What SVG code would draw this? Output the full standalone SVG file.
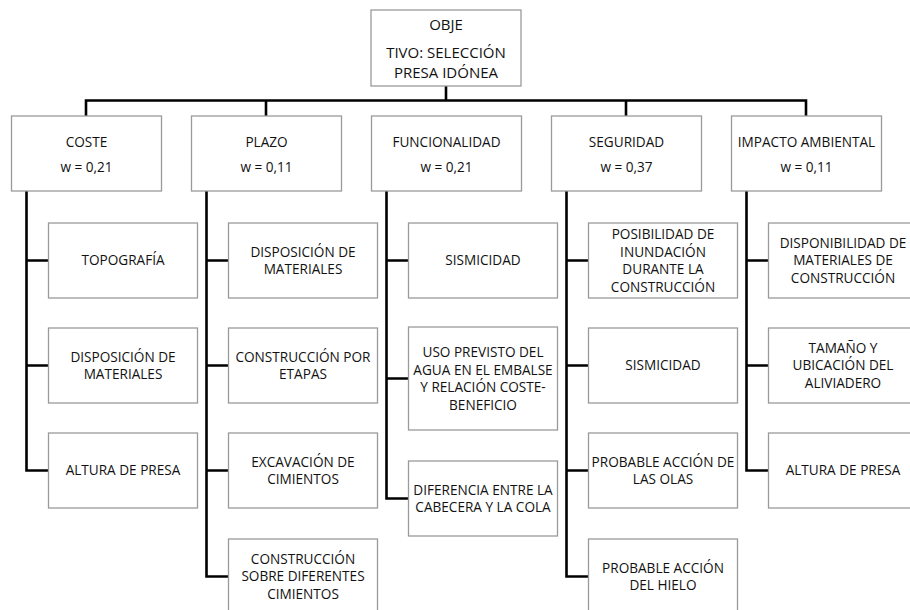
<svg xmlns="http://www.w3.org/2000/svg" width="910" height="610" viewBox="0 0 910 610">
<style>
rect{fill:#fff;stroke:#9a9a9a;stroke-width:1.3}
text{font-family:"Open Sans","Liberation Sans",sans-serif;font-size:13.6px;fill:#111;text-anchor:middle}
.root text{font-size:15px}
#connectors path{fill:none;stroke:#000;stroke-width:2.6}
</style>
<rect x="0" y="0" width="910" height="610" style="stroke:none"/>
<g id="connectors">
<path d="M446 86V100.5M86 116V100.5H806V116M266 100.5V116M626 100.5V116"/>
<path d="M26.5 191V470.5H48.5M26.5 260.5H48.5M26.5 365.5H48.5"/>
<path d="M206.5 191V576.5H228.5M206.5 260.5H228.5M206.5 365.5H228.5M206.5 470.5H228.5"/>
<path d="M386.5 191V498.5H408.5M386.5 260.5H408.5M386.5 378.5H408.5"/>
<path d="M566.5 191V576.5H588.5M566.5 260.5H588.5M566.5 365.5H588.5M566.5 470.5H588.5"/>
<path d="M746.5 191V470.5H768.5M746.5 260.5H768.5M746.5 365.5H768.5"/>
</g>
<g id="root" class="root"><rect x="371" y="10" width="150" height="76"/>
<text x="446" y="29.5">OBJE</text><text x="446" y="57.5">TIVO: SELECCIÓN</text><text x="446" y="78">PRESA IDÓNEA</text></g>
<g id="coste"><rect x="11.5" y="116" width="150" height="75"/><text x="86.5" y="147">COSTE</text><text x="86.5" y="172">w = 0,21</text></g>
<g id="plazo"><rect x="191.5" y="116" width="150" height="75"/><text x="266.5" y="147">PLAZO</text><text x="266.5" y="172">w = 0,11</text></g>
<g id="funcionalidad"><rect x="371.5" y="116" width="150" height="75"/><text x="446.5" y="147">FUNCIONALIDAD</text><text x="446.5" y="172">w = 0,21</text></g>
<g id="seguridad"><rect x="551.5" y="116" width="150" height="75"/><text x="626.5" y="147">SEGURIDAD</text><text x="626.5" y="172">w = 0,37</text></g>
<g id="impacto"><rect x="731.5" y="116" width="150" height="75"/><text x="806.5" y="147">IMPACTO AMBIENTAL</text><text x="806.5" y="172">w = 0,11</text></g>

<g id="c1"><rect x="48.5" y="223" width="149" height="75"/><text x="123" y="265.3">TOPOGRAFÍA</text></g>
<g id="c2"><rect x="48.5" y="328" width="149" height="75"/><text x="123" y="361.5">DISPOSICIÓN DE</text><text x="123" y="379.1">MATERIALES</text></g>
<g id="c3"><rect x="48.5" y="433" width="149" height="75"/><text x="123" y="475.3">ALTURA DE PRESA</text></g>

<g id="p1"><rect x="228.5" y="223" width="149" height="75"/><text x="303" y="256.5">DISPOSICIÓN DE</text><text x="303" y="274.1">MATERIALES</text></g>
<g id="p2"><rect x="228.5" y="328" width="149" height="75"/><text x="303" y="361.5">CONSTRUCCIÓN POR</text><text x="303" y="379.1">ETAPAS</text></g>
<g id="p3"><rect x="228.5" y="433" width="149" height="75"/><text x="303" y="466.5">EXCAVACIÓN DE</text><text x="303" y="484.1">CIMIENTOS</text></g>
<g id="p4"><rect x="228.5" y="539" width="149" height="80"/><text x="303" y="563.7">CONSTRUCCIÓN</text><text x="303" y="581.3">SOBRE DIFERENTES</text><text x="303" y="598.9">CIMIENTOS</text></g>

<g id="f1"><rect x="408.5" y="223" width="149" height="75"/><text x="483" y="265.3">SISMICIDAD</text></g>
<g id="f2"><rect x="408.5" y="327" width="149" height="103"/><text x="483" y="356.9">USO PREVISTO DEL</text><text x="483" y="374.5">AGUA EN EL EMBALSE</text><text x="483" y="392.1">Y RELACIÓN COSTE-</text><text x="483" y="409.7">BENEFICIO</text></g>
<g id="f3"><rect x="408.5" y="461" width="149" height="75"/><text x="483" y="494.5">DIFERENCIA ENTRE LA</text><text x="483" y="512.1">CABECERA Y LA COLA</text></g>

<g id="s1"><rect x="588.5" y="223" width="149" height="75"/><text x="663" y="238.9">POSIBILIDAD DE</text><text x="663" y="256.5">INUNDACIÓN</text><text x="663" y="274.1">DURANTE LA</text><text x="663" y="291.7">CONSTRUCCIÓN</text></g>
<g id="s2"><rect x="588.5" y="328" width="149" height="75"/><text x="663" y="370.3">SISMICIDAD</text></g>
<g id="s3"><rect x="588.5" y="433" width="149" height="75"/><text x="663" y="466.5">PROBABLE ACCIÓN DE</text><text x="663" y="484.1">LAS OLAS</text></g>
<g id="s4"><rect x="588.5" y="539" width="149" height="80"/><text x="663" y="572.5">PROBABLE ACCIÓN</text><text x="663" y="590.1">DEL HIELO</text></g>

<g id="i1"><rect x="768.5" y="223" width="149" height="75"/><text x="843" y="247.7">DISPONIBILIDAD DE</text><text x="843" y="265.3">MATERIALES DE</text><text x="843" y="282.9">CONSTRUCCIÓN</text></g>
<g id="i2"><rect x="768.5" y="328" width="149" height="75"/><text x="843" y="352.7">TAMAÑO Y</text><text x="843" y="370.3">UBICACIÓN DEL</text><text x="843" y="387.9">ALIVIADERO</text></g>
<g id="i3"><rect x="768.5" y="433" width="149" height="75"/><text x="843" y="475.3">ALTURA DE PRESA</text></g>
</svg>
